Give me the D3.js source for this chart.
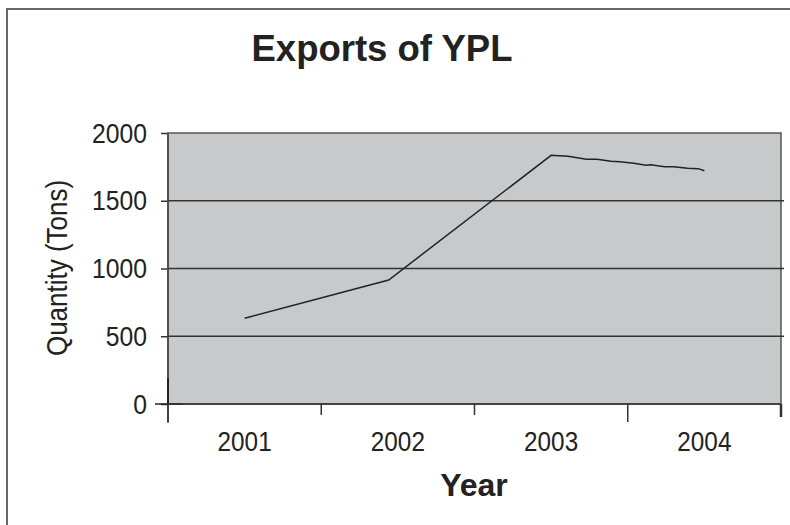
<!DOCTYPE html>
<html><head><meta charset="utf-8">
<script src="https://cdn.jsdelivr.net/npm/d3@7"></script>
<style>body{margin:0;background:#fff}svg{display:block}text{font-family:"Liberation Sans",Arial,sans-serif;fill:#222}</style>
</head><body>
<script>
const categories = ["2001","2002","2003","2004"];
const categoryYears = [2001,2002,2003,2004];
// hand-drawn export line: [year position, tons]
const pointYears = [2001,2001.94,2003,2003.11,2003.23,2003.30,2003.39,2003.45,2003.54,2003.62,2003.65,2003.74,2003.80,2003.89,2003.96,2004];
const pointTons  = [633,915,1835,1828,1806,1806,1791,1788,1776,1762,1766,1751,1751,1739,1737,1722];
const yTicks = [0,500,1000,1500,2000];
const boundaryYears = [2000.5,2001.5,2002.5,2003.5,2004.5];
const boundaryLong = [true,false,false,true,true];

const W=790,H=525;
const svg=d3.select("body").append("svg").attr("width",W).attr("height",H);
const L=168,R=781,T=133,B=404;
const x=d3.scaleLinear().domain([2000.5,2004.5]).range([L,R]);
const y=d3.scaleLinear().domain([0,2000]).range([B,T]);

// outer frame
svg.append("rect").attr("x",7).attr("y",9).attr("width",W).attr("height",H)
  .attr("fill","none").attr("stroke","#666").attr("stroke-width",2);

// plot area
svg.append("rect").attr("x",L).attr("y",T).attr("width",R-L).attr("height",B-T)
  .attr("fill","#c8c9cb").attr("stroke","#555").attr("stroke-width",1.5);

// gridlines
svg.append("g").selectAll("line").data(yTicks.filter(d=>d>0&&d<2000)).join("line")
  .attr("x1",L).attr("x2",R+3).attr("y1",d=>y(d)).attr("y2",d=>y(d))
  .attr("stroke","#333").attr("stroke-width",1.5);

// y axis
const ya=svg.append("g").attr("transform",`translate(${L},0)`)
  .call(d3.axisLeft(y).tickValues(yTicks).tickFormat(d3.format("d")).tickSize(7));
ya.select(".domain").remove();
ya.selectAll(".tick line").attr("stroke","#333").attr("stroke-width",1.5);
ya.selectAll(".tick text").attr("x",null).attr("dy",null)
  .attr("transform","translate(-21,9) scale(0.95,1.05)")
  .style("font-size","26px").attr("fill","#222")
  .attr("font-family","Liberation Sans, Arial, sans-serif");
// left axis line
svg.append("line").attr("x1",L).attr("x2",L).attr("y1",T).attr("y2",423)
  .attr("stroke","#444").attr("stroke-width",1.5);
// zero-level marks
svg.append("line").attr("x1",155).attr("x2",183).attr("y1",y(0)).attr("y2",y(0))
  .attr("stroke","#222").attr("stroke-width",1.5);
svg.append("line").attr("x1",L).attr("x2",L).attr("y1",y(0)-26).attr("y2",y(0))
  .attr("stroke","#222").attr("stroke-width",2);

// x axis
svg.append("line").attr("x1",L).attr("x2",R).attr("y1",B).attr("y2",B)
  .attr("stroke","#333").attr("stroke-width",1.5);
svg.append("g").selectAll("line").data(boundaryYears).join("line")
  .attr("x1",d=>x(d)).attr("x2",d=>x(d)).attr("y1",B)
  .attr("y2",(d,i)=>boundaryLong[i]?(i===4?417:422):415)
  .attr("stroke","#333").attr("stroke-width",(d,i)=>i===4?2.5:1.5);
svg.append("g").selectAll("text").data(categories).join("text")
  .attr("transform",(d,i)=>`translate(${x(categoryYears[i])},451) scale(0.9,1)`)
  .attr("text-anchor","middle").style("font-size","27px").text(d=>d);

// line
const line=d3.line().x(d=>x(d[0])).y(d=>y(d[1]));
svg.append("path").datum(pointYears.map((v,i)=>[v,pointTons[i]]))
  .attr("d",line).attr("fill","none").attr("stroke","#222").attr("stroke-width",1.5);

// titles
svg.append("text").attr("x",382).attr("y",61).attr("text-anchor","middle")
  .style("font-size","36.5px").style("font-weight","bold").text("Exports of YPL");
svg.append("text").attr("x",474).attr("y",496).attr("text-anchor","middle")
  .style("font-size","32px").style("font-weight","bold").text("Year");
svg.append("text").attr("transform","translate(67,268) rotate(-90) scale(1,1.15)").attr("text-anchor","middle")
  .style("font-size","26px").text("Quantity (Tons)");
</script>
</body></html>
